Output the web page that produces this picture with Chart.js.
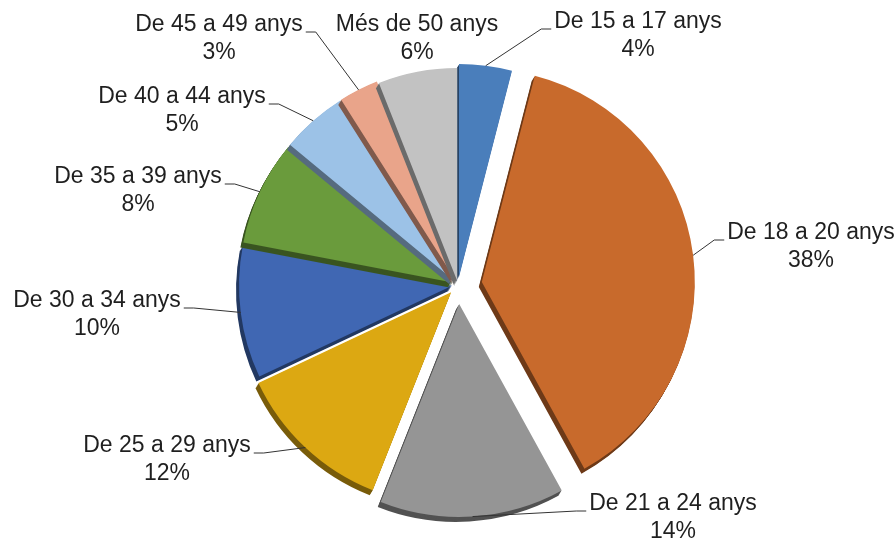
<!DOCTYPE html>
<html>
<head>
<meta charset="utf-8">
<script src="https://cdn.jsdelivr.net/npm/chart.js@4.4.1/dist/chart.umd.min.js"></script>
<style>
  html, body { margin: 0; padding: 0; background: #fff; }
  #wrap { width: 896px; height: 541px; position: relative; }
</style>
</head>
<body>
<div id="wrap"><canvas id="ageChart" width="896" height="541"></canvas></div>
<script>
// Data
const ageGroups = [
    'De 15 a 17 anys', 'De 18 a 20 anys', 'De 21 a 24 anys',
    'De 25 a 29 anys', 'De 30 a 34 anys', 'De 35 a 39 anys',
    'De 40 a 44 anys', 'De 45 a 49 anys', 'Més de 50 anys'
];
const shares = [4, 38, 14, 12, 10, 8, 5, 3, 6];

// Styles
const sliceColors = ['#4a7ebb', '#c86a2c', '#959595', '#dca812', '#4067b3', '#6a9b3c', '#9cc2e7', '#e9a48a', '#c2c2c2'];
const sliceExplode = [8, 24, 19, 10, 6, 6, 6, 6, 4];
// label position (centre of text, first baseline) relative to pie centre
const labelOffsets = [
    [180, -257], [353, -46], [215, 225],
    [-291, 167], [-361, 22], [-320, -102],
    [-276, -182], [-239, -254], [-41, -254]
];

function shade(hex, f) {
    const n = parseInt(hex.slice(1), 16);
    const r = Math.round(((n >> 16) & 255) * f);
    const g = Math.round(((n >> 8) & 255) * f);
    const b = Math.round((n & 255) * f);
    return `rgb(${r}, ${g}, ${b})`;
}

// draws each slice pushed out from the centre, with a dark edge underneath
const explodedSlices = {
    id: 'explodedSlices',
    beforeDatasetDraw(chart, args) {
        const ctx = chart.ctx;
        args.meta.data.forEach((arc, i) => {
            const mid = (arc.startAngle + arc.endAngle) / 2;
            const ghost = Object.create(arc);
            ghost.options = Object.assign({}, arc.options, {
                backgroundColor: shade(sliceColors[i], 0.55),
                borderWidth: 0
            });
            ctx.save();
            ctx.translate(Math.cos(mid) * sliceExplode[i], Math.sin(mid) * sliceExplode[i]);
            for (let k = 5; k >= 1; k--) {
                ctx.save();
                ctx.translate(-0.6 * k, k);
                ghost.draw(ctx);
                ctx.restore();
            }
            arc.draw(ctx);
            ctx.restore();
        });
        return false;
    }
};

const sliceLabels = {
    id: 'sliceLabels',
    afterDraw(chart) {
        const ctx = chart.ctx;
        const meta = chart.getDatasetMeta(0);
        ctx.save();
        ctx.font = '23px "Liberation Sans", Arial, sans-serif';
        ctx.fillStyle = '#1f1f1f';
        ctx.strokeStyle = '#333';
        ctx.lineWidth = 1;
        meta.data.forEach((arc, i) => {
            const cx = arc.x + labelOffsets[i][0];
            const by = arc.y + labelOffsets[i][1];
            const line1 = ageGroups[i];
            const line2 = shares[i] + '%';
            const w = ctx.measureText(line1).width;

            const mid = (arc.startAngle + arc.endAngle) / 2;
            const r = arc.outerRadius + sliceExplode[i];
            const px = arc.x + Math.cos(mid) * r;
            const py = arc.y + Math.sin(mid) * r;
            if (px < cx - w / 2 || px > cx + w / 2) {
                const onRight = px < cx;
                const sx = onRight ? cx - w / 2 - 3 : cx + w / 2 + 3;
                const sy = by + 1;
                ctx.beginPath();
                ctx.moveTo(sx, sy);
                ctx.lineTo(sx + (onRight ? -10 : 10), sy);
                ctx.lineTo(px, py);
                ctx.stroke();
            }

            ctx.save();
            ctx.textAlign = 'center';
            ctx.textBaseline = 'alphabetic';
            ctx.translate(cx, by);
            ctx.scale(1, 1.04);
            ctx.fillText(line1, 0, 0);
            ctx.fillText(line2, 0, 27);
            ctx.restore();
        });
        ctx.restore();
    }
};

new Chart(document.getElementById('ageChart'), {
    type: 'pie',
    data: {
        labels: ageGroups,
        datasets: [{
            data: shares,
            backgroundColor: sliceColors,
            borderWidth: 0
        }]
    },
    options: {
        responsive: false,
        animation: false,
        events: [],
        radius: 213,
        layout: {
            padding: { left: 20, right: 0, top: 29, bottom: 0 }
        },
        plugins: {
            legend: { display: false },
            tooltip: { enabled: false }
        }
    },
    plugins: [explodedSlices, sliceLabels]
});
</script>
</body>
</html>
